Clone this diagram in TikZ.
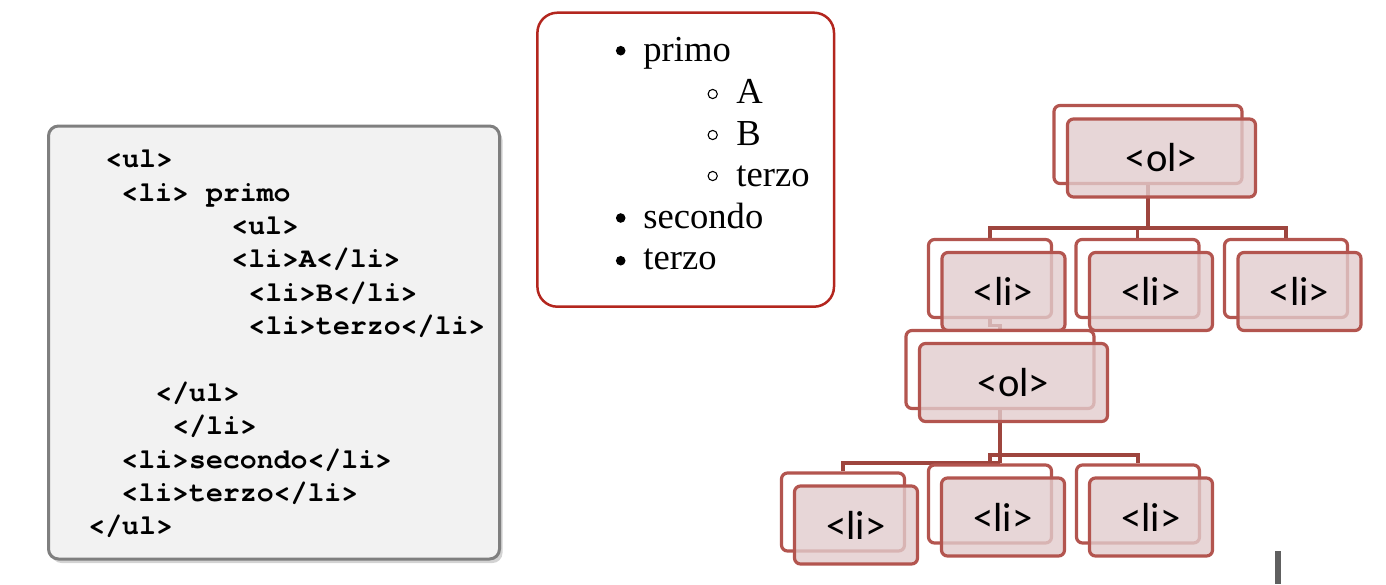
\documentclass[tikz,border=0pt]{standalone}
\usepackage{fontspec}
\setmainfont{Liberation Serif}
\newfontfamily\codefont{TeX Gyre Cursor}
\newfontfamily\calfont{Carlito}
\usetikzlibrary{shadows,calc}
\definecolor{codebg}{HTML}{F2F2F2}
\definecolor{codeborder}{HTML}{7F7F7F}
\definecolor{listred}{HTML}{B3261E}
\definecolor{treeborder}{HTML}{B3554F}
\definecolor{treefill}{RGB}{226,204,205}
\definecolor{treeline}{HTML}{9E453E}
\definecolor{barcol}{HTML}{606060}
\pgfdeclarelayer{bg}
\pgfsetlayers{bg,main}
\begin{document}
\begin{tikzpicture}[x=0.5pt,y=-0.5pt,
 codebox/.style={draw=codeborder, line width=1.5pt, fill=codebg, rounded corners=5pt,
   minimum width=225.5pt, minimum height=216.5pt, inner sep=0pt,
   drop shadow={shadow xshift=1.5pt, shadow yshift=-2pt, opacity=0.35}},
 codeline/.style={anchor=base west, inner sep=0pt, font=\codefont\bfseries\fontsize{14.1}{16}\selectfont},
 listbox/.style={draw=listred, line width=1.25pt, fill=white, rounded corners=10pt,
   minimum width=148.3pt, minimum height=147pt, inner sep=0pt},
 listitem/.style={anchor=base west, inner sep=0pt, font=\fontsize{18.3}{22}\selectfont},
 backbox/.style={draw=treeborder, line width=1.6pt, fill=white, rounded corners=3pt, inner sep=0pt},
 frontbox/.style={draw=treeborder, line width=1.6pt, fill=treefill, fill opacity=0.8, draw opacity=1,
   text opacity=1, rounded corners=3pt, inner sep=0pt, font=\calfont\fontsize{20.3}{24}\selectfont},
 olsize/.style={minimum width=94pt, minimum height=39pt},
 lisize/.style={minimum width=61.5pt, minimum height=39pt},
 conn/.style={draw=treeline, line width=1.6pt},
]
\useasboundingbox (0,0) rectangle (1386,584);

% code box
\node[codebox] (code) at (274,342.5) {};
\node[codeline] (c1) at (105,167) {<ul>};
\node[codeline] (c2) at (121,201) {<li> primo};
\node[codeline] (c3) at (231,234) {<ul>};
\node[codeline] (c4) at (231,267) {<li>A</li>};
\node[codeline] (c5) at (248,301) {<li>B</li>};
\node[codeline] (c6) at (248,334) {<li>terzo</li>};
\node[codeline] (c7) at (155,401) {</ul>};
\node[codeline] (c8) at (172,434) {</li>};
\node[codeline] (c9) at (121,468) {<li>secondo</li>};
\node[codeline] (c10) at (121,501) {<li>terzo</li>};
\node[codeline] (c11) at (88,534) {</ul>};

% rendered list
\node[listbox] (list) at (685.7,159.7) {};
\node[listitem] (l1) at (643,61.7) {primo};
\node[listitem] (l2) at (736,103.3) {A};
\node[listitem] (l3) at (736,145) {B};
\node[listitem] (l4) at (736,186) {terzo};
\node[listitem] (l5) at (643,228.3) {secondo};
\node[listitem] (l6) at (643,269.3) {terzo};
\fill (620.7,50.7) circle[radius=2.4pt];
\fill (620.7,218) circle[radius=2.4pt];
\fill (620.7,260.7) circle[radius=2.4pt];
\draw[line width=0.55pt] (712.7,94) circle[radius=2.3pt];
\draw[line width=0.55pt] (712.7,135) circle[radius=2.3pt];
\draw[line width=0.55pt] (712.7,176) circle[radius=2.3pt];

% tree
\node[backbox,olsize] (ol1b) at (1148,144.5) {};
\node[frontbox,olsize] (ol1) at (1161.5,158) {<ol>};

\node[backbox,lisize] (lab) at (990,278.5) {};
\node[frontbox,lisize] (la) at (1003.5,291.5) {<li>};
\node[backbox,lisize] (lbb) at (1137.5,278.5) {};
\node[frontbox,lisize] (lb) at (1151,291.5) {<li>};
\node[backbox,lisize] (lcb) at (1286,278.5) {};
\node[frontbox,lisize] (lc) at (1299.5,291.5) {<li>};

\node[backbox,olsize] (ol2b) at (1000,369.5) {};
\node[frontbox,olsize] (ol2) at (1013.5,382.5) {<ol>};

\node[backbox,lisize] (ldb) at (843,512) {};
\node[frontbox,lisize] (ld) at (856,525) {<li>};
\node[backbox,lisize] (leb) at (990,504) {};
\node[frontbox,lisize] (le) at (1003,517) {<li>};
\node[backbox,lisize] (lfb) at (1138,504) {};
\node[frontbox,lisize] (lf) at (1151,517) {<li>};

\begin{pgfonlayer}{bg}
\coordinate (j1) at (1148,228);
\draw[conn] (ol1b.south) -- (j1);
\draw[conn] (lab.north) |- (j1);
\draw[conn] (lbb.north) |- (j1);
\draw[conn] (lcb.north) |- (j1);
\draw[conn] (lab.south) -- ++(0,6) -| (ol2b.north);
\coordinate (j2) at (1000,463);
\draw[conn] (ol2b.south) -- (j2);
\draw[conn] (ldb.north) |- (j2);
\coordinate (j3) at (990,455);
\draw[conn] (leb.north) -- (j3) -- (j3 -| lfb.north) -- (lfb.north);
\end{pgfonlayer}

\fill[barcol] (1275,551) rectangle (1281,584);
\end{tikzpicture}
\end{document}
